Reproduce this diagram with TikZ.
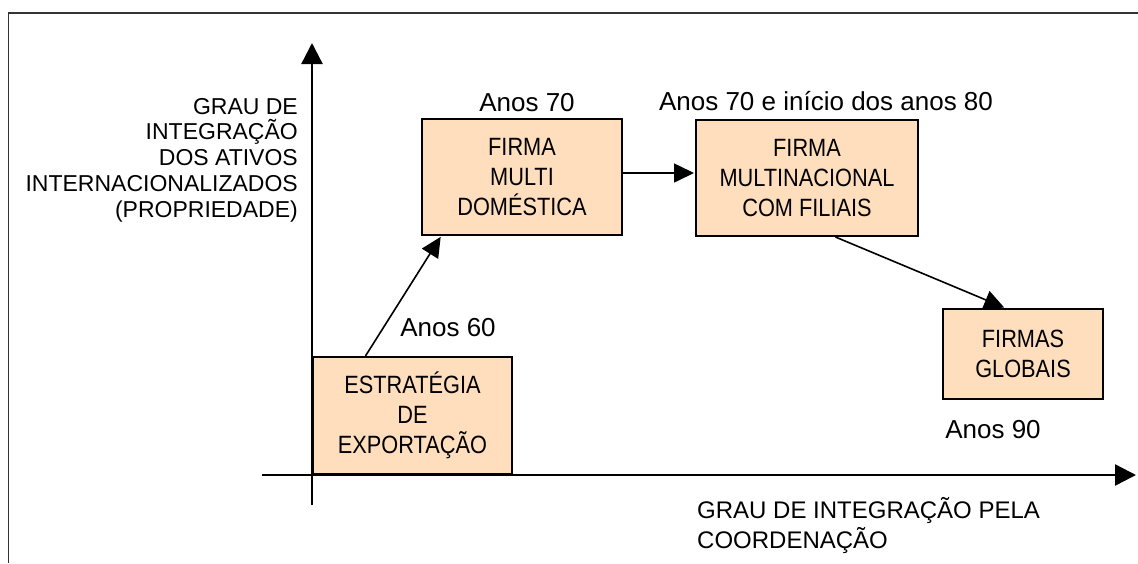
\documentclass[tikz,border=0pt]{standalone}
\usepackage{fontspec}
\setmainfont{Liberation Sans}
\newfontfamily\boxfamily{Liberation Sans}[FakeStretch=0.87]
\usetikzlibrary{arrows.meta,calc}
\newcommand\fsanos{\fontsize{26}{30}\selectfont}
\newcommand\fsaxis{\fontsize{24}{30}\selectfont}
\newcommand\fsylab{\fontsize{23}{25.8}\selectfont}
\newcommand\fsbox{\boxfamily\fontsize{25}{30}\selectfont}
\definecolor{peach}{RGB}{255,222,190}
\tikzset{
  frameline/.style={line width=1.8pt, draw=black!80},
  axis/.style={line width=2.4pt, -{Triangle[length=21pt,width=21pt]}},
  stagebox/.style={draw, line width=2pt, fill=peach, inner sep=0pt, align=center, font=\fsbox},
  conn/.style={line width=1.6pt, -{Triangle[length=20pt,width=19pt]}, shorten >=1pt},
  anos/.style={font=\fsanos, inner sep=0pt, anchor=base},
  lab/.style={inner sep=0pt}
}
\begin{document}
\begin{tikzpicture}[x=1pt,y=-1pt]
\useasboundingbox (0,0) rectangle (1138,563);
% frame
\draw[frameline] (1138,13) -- (8.5,13) -- (8.5,563);
% axes
\coordinate (yb) at (312,505);
\coordinate (yt) at (312,43);
\coordinate (xl) at (262,475);
\coordinate (xr) at (1136,475);
\draw[axis] (yb) -- (yt);
\draw[axis] (xl) -- (xr);
% boxes
\node[stagebox, minimum width=199pt, minimum height=117pt] (b1) at (412.5,415.5) {ESTRATÉGIA\\DE\\EXPORTAÇÃO};
\node[stagebox, minimum width=200pt, minimum height=116pt] (b2) at (522,177) {FIRMA\\MULTI\\DOMÉSTICA};
\node[stagebox, minimum width=222pt, minimum height=116pt] (b3) at (807,178) {FIRMA\\MULTINACIONAL\\COM FILIAIS};
\node[stagebox, minimum width=160pt, minimum height=90pt] (b4) at (1023,354) {FIRMAS\\GLOBAIS};
% labels
\node[anos] (l70) at (527,111) {Anos 70};
\node[anos] (l7080) at (826,110) {Anos 70 e início dos anos 80};
\node[anos] (l60) at (448,336) {Anos 60};
\node[anos] (l90) at (993,438) {Anos 90};
\node[lab, font=\fsylab, align=right, anchor=east] (ylab) at (298,160) {GRAU DE\\INTEGRAÇÃO\\DOS ATIVOS\\INTERNACIONALIZADOS\\(PROPRIEDADE)};
\node[lab, font=\fsaxis, align=left, anchor=west] (xlab) at (697,525) {GRAU DE INTEGRAÇÃO PELA\\COORDENAÇÃO};
% connectors
\draw[conn] ($(b1.north west)!0.266!(b1.north east)$) -- ($(b2.south west)!0.10!(b2.south east)$);
\draw[conn] (b2.east |- 0,173) -- (b3.west |- 0,173);
\draw[conn] ($(b3.south west)!0.627!(b3.south east)$) -- ($(b4.north west)!0.39!(b4.north east)$);
\end{tikzpicture}
\end{document}
